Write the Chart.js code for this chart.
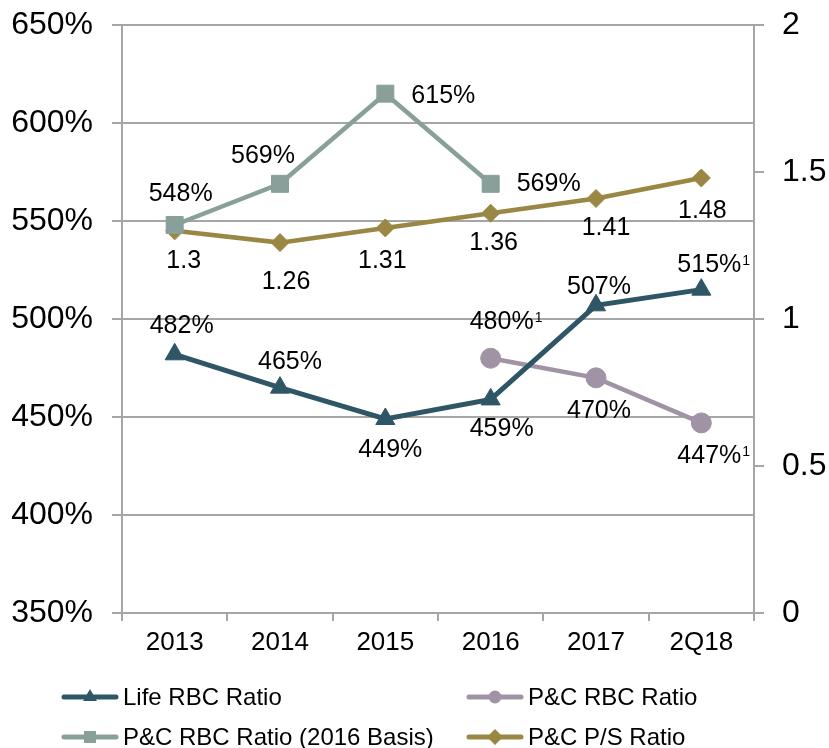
<!DOCTYPE html>
<html><head><meta charset="utf-8">
<script src="https://cdn.jsdelivr.net/npm/chart.js@4.4.0/dist/chart.umd.min.js"></script>
<style>html,body{margin:0;padding:0;background:#fff;}canvas{display:block;}</style>
</head><body>
<canvas id="c" width="829" height="748"></canvas>
<script>
// ---- data ----
const categories = ['2013', '2014', '2015', '2016', '2017', '2Q18'];
const lifeRBC = [482, 465, 449, 459, 507, 515];
const pcRBC = [null, null, null, 480, 470, 447];
const pcRBC2016 = [548, 569, 615, 569, null, null];
const pcPS = [1.3, 1.26, 1.31, 1.36, 1.41, 1.48];
const lifeNotes = ['', '', '', '', '', '1'];
const pcNotes = ['', '', '', '1', '', '1'];
const leftTicks = [350, 400, 450, 500, 550, 600, 650];
const rightTicks = [0, 0.5, 1, 1.5, 2];

// ---- label placement (offsets from point, px) ----
const lifeLabelPos = [[7,-28],[10,-26],[5,31],[11,30],[3,-18],[8,-25]];
const pcLabelPos = [null,null,null,[11,-36],[3,33],[8,33]];
const basisLabelPos = [[6,-31],[-17,-28],[58,2],[58,0],null,null];
const psLabelPos = [[9,30],[6,39],[-3,33],[3,30],[10,30],[1,33]];

const FONT = '"Liberation Sans", Arial, sans-serif';
const GRID = '#A6A6A6';
const C_LIFE = '#2E5666', C_PC = '#A093A5', C_BASIS = '#889F9A', C_PS = '#9A8744';

const labelCfg = [
  {pos: lifeLabelPos, notes: lifeNotes, fmt: v => v + '%'},
  {pos: pcLabelPos, notes: pcNotes, fmt: v => v + '%'},
  {pos: basisLabelPos, notes: null, fmt: v => v + '%'},
  {pos: psLabelPos, notes: null, fmt: v => String(v)}
];

function drawMarker(ctx, style, x, y, r, color) {
  ctx.save();
  ctx.fillStyle = color;
  ctx.beginPath();
  if (style === 'triangle') {
    ctx.moveTo(x, y - r);
    ctx.lineTo(x + r * 0.866, y + r * 0.5);
    ctx.lineTo(x - r * 0.866, y + r * 0.5);
  } else if (style === 'rect') {
    const s = r * 0.75;
    ctx.rect(x - s, y - s, 2 * s, 2 * s);
  } else if (style === 'circle') {
    ctx.arc(x, y, r * 0.8, 0, Math.PI * 2);
  } else {
    ctx.moveTo(x, y - r); ctx.lineTo(x + r, y); ctx.lineTo(x, y + r); ctx.lineTo(x - r, y);
  }
  ctx.closePath();
  ctx.fill();
  ctx.restore();
}

const dataLabelPlugin = {
  id: 'dataLabels',
  afterDatasetsDraw(chart) {
    const ctx = chart.ctx;
    chart.data.datasets.forEach((ds, di) => {
      const cfg = labelCfg[di];
      const meta = chart.getDatasetMeta(di);
      ds.data.forEach((v, i) => {
        if (v === null || !cfg.pos[i]) return;
        const pt = meta.data[i];
        const cx = pt.x + cfg.pos[i][0], cy = pt.y + cfg.pos[i][1];
        const txt = cfg.fmt(v);
        ctx.save();
        ctx.fillStyle = '#000';
        ctx.font = '25px ' + FONT;
        ctx.textAlign = 'center';
        ctx.textBaseline = 'middle';
        ctx.fillText(txt, cx, cy);
        if (cfg.notes && cfg.notes[i]) {
          const w = ctx.measureText(txt).width;
          ctx.font = '14px ' + FONT;
          ctx.textAlign = 'left';
          ctx.textBaseline = 'top';
          ctx.fillText(cfg.notes[i], cx + w / 2 + 1, cy - 11);
        }
        ctx.restore();
      });
    });
  }
};

const legendPlugin = {
  id: 'customLegend',
  afterDraw(chart) {
    const ctx = chart.ctx;
    const cols = [62, 467], rows = [697, 737];
    const order = [0, 1, 2, 3];
    order.forEach((di, k) => {
      const ds = chart.data.datasets[di];
      const x = cols[k % 2], y = rows[Math.floor(k / 2)];
      ctx.save();
      ctx.strokeStyle = ds.borderColor;
      ctx.lineWidth = 5;
      ctx.lineCap = 'round';
      ctx.beginPath();
      ctx.moveTo(x + 2, y); ctx.lineTo(x + 54, y);
      ctx.stroke();
      drawMarker(ctx, ds.pointStyle, x + 28, y, 8, ds.borderColor);
      ctx.fillStyle = '#000';
      ctx.font = '24px ' + FONT;
      ctx.textAlign = 'left';
      ctx.textBaseline = 'middle';
      ctx.fillText(ds.label, x + 61, y + 1);
      ctx.restore();
    });
  }
};

const tickFont = {family: FONT, size: 32, lineHeight: 0.38};

new Chart(document.getElementById('c'), {
  type: 'line',
  data: {
    labels: categories,
    datasets: [
      {label: 'Life RBC Ratio', data: lifeRBC, yAxisID: 'y', borderColor: C_LIFE, backgroundColor: C_LIFE,
       pointStyle: 'triangle', pointRadius: 11, pointBorderWidth: 1, borderWidth: 5, tension: 0},
      {label: 'P&C RBC Ratio', data: pcRBC, yAxisID: 'y', borderColor: C_PC, backgroundColor: C_PC,
       pointStyle: 'circle', pointRadius: 10, pointBorderWidth: 1, borderWidth: 4.5, tension: 0},
      {label: 'P&C RBC Ratio (2016 Basis)', data: pcRBC2016, yAxisID: 'y', borderColor: C_BASIS, backgroundColor: C_BASIS,
       pointStyle: 'rect', pointRadius: 12, pointBorderWidth: 1, borderWidth: 4.5, tension: 0},
      {label: 'P&C P/S Ratio', data: pcPS, yAxisID: 'y1', borderColor: C_PS, backgroundColor: C_PS,
       pointStyle: 'rectRot', pointRadius: 9, pointBorderWidth: 1, borderWidth: 4.5, tension: 0}
    ]
  },
  options: {
    responsive: false,
    animation: false,
    layout: {padding: {top: 25, left: 0, right: 0, bottom: 0}},
    plugins: {legend: {display: false}, tooltip: {enabled: false}},
    scales: {
      x: {
        offset: true,
        grid: {offset: true, drawOnChartArea: false, tickLength: 8, color: GRID, lineWidth: 2},
        border: {color: GRID, width: 2},
        ticks: {font: {family: FONT, size: 26}, color: '#000', padding: 6, maxRotation: 0},
        afterFit(s) { s.height = 135; }
      },
      y: {
        position: 'left',
        min: leftTicks[0], max: leftTicks[leftTicks.length - 1],
        afterBuildTicks(s) { s.ticks = leftTicks.map(v => ({value: v})); },
        ticks: {font: tickFont, color: '#000', padding: 19, callback: v => v + '%'},
        grid: {color: GRID, lineWidth: 2, tickLength: 10},
        border: {color: GRID, width: 2},
        afterFit(s) { s.width = 122; }
      },
      y1: {
        position: 'right',
        min: rightTicks[0], max: rightTicks[rightTicks.length - 1],
        afterBuildTicks(s) { s.ticks = rightTicks.map(v => ({value: v})); },
        ticks: {font: tickFont, color: '#000', padding: 18, callback: v => String(v)},
        grid: {drawOnChartArea: false, color: GRID, lineWidth: 2, tickLength: 10},
        border: {color: GRID, width: 2},
        afterFit(s) { s.width = 75; }
      }
    }
  },
  plugins: [dataLabelPlugin, legendPlugin]
});
</script>
</body></html>
